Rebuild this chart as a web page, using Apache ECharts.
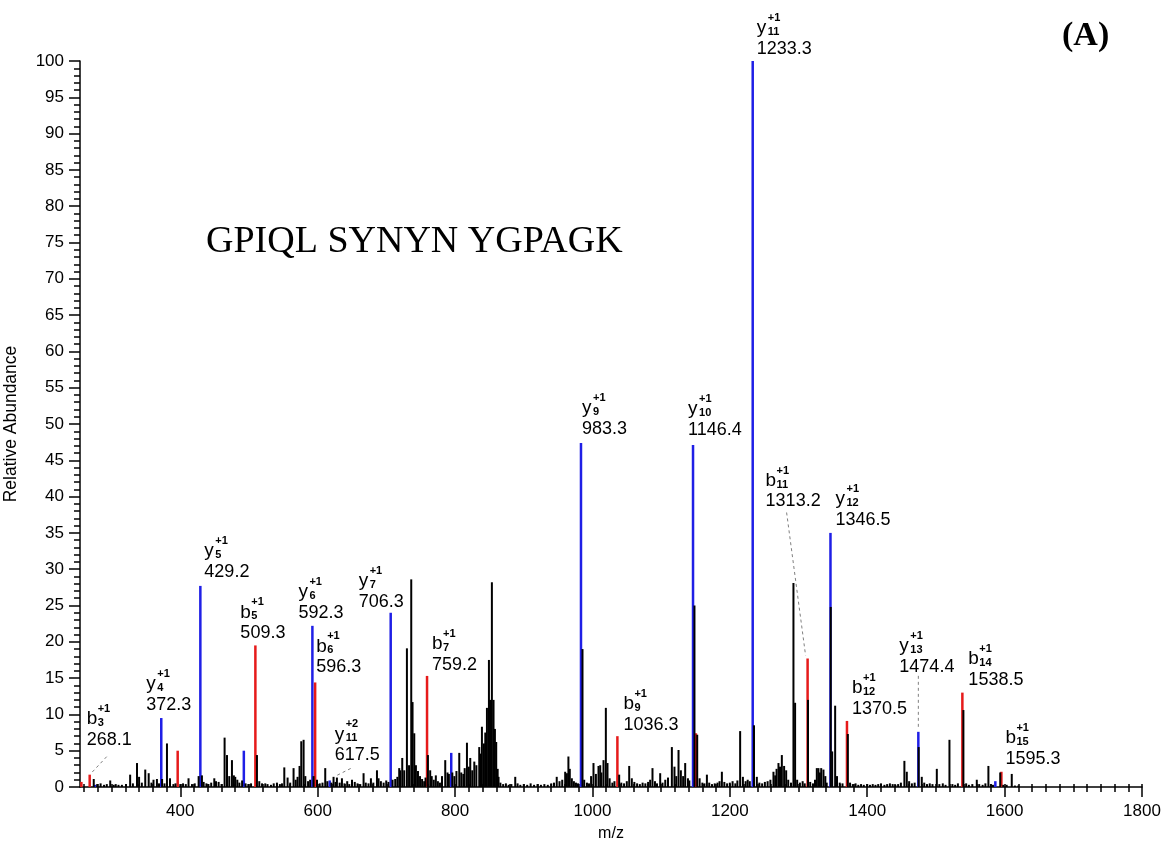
<!DOCTYPE html>
<html>
<head>
<meta charset="utf-8">
<script src="https://cdn.jsdelivr.net/npm/echarts@6/dist/echarts.min.js"></script>
<style>
html,body{margin:0;padding:0;background:#fff;}
#chart{width:1166px;height:843px;}
</style>
</head>
<body>
<div id="chart"></div>
<script>
// ---------------- DATA ----------------
const peptide = 'GPIQL SYNYN YGPAGK';
const panelTag = '(A)';
const xTickLabels = [400, 600, 800, 1000, 1200, 1400, 1600, 1800];
const yTickStep = 5;

// y-ion peaks (blue) [m/z, relative abundance]
const yIonPeaks = [
  [276, 0.3], [372.3, 9.5], [429.2, 27.7], [492.5, 5.0], [592.3, 22.2], [617.5, 0.9],
  [706.3, 24.0], [794.4, 4.7], [983.3, 47.4], [1146.4, 47.1], [1233.3, 100],
  [1346.5, 35.0], [1474.4, 7.6], [1586.5, 0.8]
];

// b-ion peaks (red)
const bIonPeaks = [
  [256, 0.7], [268.1, 1.7], [396.2, 5.0], [509.3, 19.5], [596.3, 14.4], [759.2, 15.3],
  [1036.3, 7.0], [1150.6, 7.4], [1313.2, 17.7], [1370.5, 9.1], [1538.5, 13.0], [1595.3, 2.1]
];

// unassigned peaks (black)
const otherPeaks = [
  [274,1.1],[279,0.4],[284,0.5],[289,0.3],[293,0.4],[298,0.9],[303,0.3],[306,0.4],[310,0.3],[315,0.3],
  [321,0.4],[327,1.7],[331,0.5],[337,3.3],[340,1.4],[344,0.6],[349,2.4],[354,1.9],[358,0.6],[361,1.0],
  [366,1.1],[369,0.5],[373.5,1.1],[377,0.5],[380.6,6.0],[385,1.2],[390,0.4],[393,0.5],[400,0.4],[404,0.5],
  [408,0.4],[412,1.2],[417,0.4],[421,0.5],[426.7,1.5],[431.5,1.6],[434,0.7],[438,0.5],[441,0.4],[445,0.6],
  [449.5,1.2],[452,0.8],[455.8,0.7],[460,0.4],[464.5,6.8],[468,4.4],[471.3,1.5],[475.2,3.7],[478,1.6],[480,1.4],
  [483,1.0],[486,0.6],[490,0.9],[495,0.5],[499,0.4],[503,0.5],[511.6,4.4],[515,0.8],[519,0.5],[523.7,0.5],
  [527,0.4],[532,0.3],[536,0.5],[540.7,0.6],[545,0.4],[548,0.5],[551.4,2.7],[556.2,1.3],[560,0.6],[564.9,2.6],
  [568,1.0],[570.7,1.4],[573.6,2.9],[576.1,6.3],[579.5,6.5],[582,1.5],[586,0.8],[589,1.0],[594,1.5],[599,1.0],
  [603,0.5],[607,0.6],[611,2.6],[614,0.8],[620,0.6],[623.1,1.4],[626,0.7],[628,1.3],[632,0.6],[635.3,1.2],
  [639,0.5],[643,0.8],[646,0.4],[650,1.0],[654,0.7],[658,0.5],[662,0.4],[666.8,1.9],[670,0.6],[674,0.5],
  [677.5,1.2],[681,0.6],[686.3,2.3],[688.6,1.2],[692,0.8],[696,0.6],[699.8,0.9],[703,0.7],[709,1.0],[712.9,1.1],
  [716,1.4],[718.7,2.6],[720.2,2.3],[723.1,4.0],[726,2.3],[729.9,19.1],[733,3.0],[736.2,28.6],[738.1,11.7],[740.6,7.4],
  [743,3.0],[746,2.2],[749,1.5],[752,1.1],[755,0.8],[757,1.3],[760.5,4.4],[763.8,2.3],[766,1.5],[769,1.0],
  [772,1.6],[775,0.8],[778,0.6],[781,1.5],[785.7,3.7],[789,2.0],[791,1.8],[796,2.0],[799,1.5],[802,2.2],
  [806.1,4.7],[809,2.0],[812,1.8],[814,2.6],[817.3,6.1],[820,2.8],[822.1,4.0],[825,2.3],[828,3.5],[831,3.0],
  [835.2,5.5],[837,4.6],[839.1,8.3],[842,6.0],[844,7.5],[846.4,10.9],[849.3,17.5],[851,12.0],[853.6,28.2],[856,12.0],
  [858,8.0],[859.9,6.2],[862,2.5],[863.3,1.4],[866,0.6],[870,0.4],[874,0.5],[878,0.3],[882,0.4],[887.6,1.4],
  [891,0.5],[895,0.3],[900,0.4],[905,0.3],[910,0.5],[915,0.3],[920,0.4],[925,0.3],[930,0.4],[935,0.3],
  [940,0.5],[944,0.6],[948,1.4],[952,0.8],[956,1.0],[960.3,2.1],[962.8,1.9],[965,4.2],[967,2.5],[970,1.2],
  [973,0.8],[976,0.6],[979,0.5],[985.5,19.0],[988,1.0],[992,0.6],[995,0.5],[998,1.5],[1001.5,3.3],[1005,1.8],
  [1008.8,2.9],[1011.3,3.0],[1013,2.0],[1016.1,3.7],[1019.5,10.9],[1021.9,3.3],[1025,1.2],[1029,0.6],[1032,0.8],[1038.9,1.7],
  [1042,0.6],[1046,0.5],[1050,0.8],[1053.5,2.9],[1057.3,1.2],[1061,0.7],[1065,0.5],[1069,0.4],[1073,0.6],[1077,0.5],
  [1081,0.7],[1084,1.0],[1087.4,2.6],[1091,0.8],[1094,0.5],[1098.6,1.9],[1102,0.6],[1106,1.0],[1110,1.3],[1115.6,5.5],
  [1119.4,2.8],[1122,1.5],[1125.3,5.1],[1128.7,2.3],[1132,1.5],[1135,3.3],[1139,1.2],[1141,0.9],[1148.5,25.0],[1152.5,7.2],
  [1156,1.2],[1160,0.6],[1163,0.5],[1166.6,1.7],[1170,0.6],[1174,0.4],[1178,0.5],[1182,0.6],[1185,0.8],[1188.4,2.1],
  [1192,0.7],[1196,0.5],[1200,0.6],[1204,0.8],[1208,0.5],[1211,0.9],[1215,7.7],[1219,1.4],[1223,0.8],[1226,1.0],
  [1229,0.8],[1235.2,8.5],[1239.3,1.4],[1243,0.6],[1247,0.5],[1251,0.7],[1255,0.8],[1259,1.0],[1263.5,2.1],[1266,1.6],
  [1268,2.5],[1270.8,3.3],[1273,2.8],[1275.7,4.4],[1279,2.9],[1282,2.3],[1285,1.0],[1289,0.6],[1292.6,28.1],[1295,11.6],
  [1298,1.0],[1302,0.6],[1306,0.8],[1309,0.5],[1313.8,12.0],[1317,0.7],[1321,0.5],[1324,1.0],[1326.6,2.6],[1329,2.6],
  [1331,2.0],[1333,2.6],[1336.3,2.4],[1339,1.5],[1341,0.6],[1346.9,24.8],[1349,4.9],[1353.3,11.2],[1356,1.5],[1360,0.6],
  [1364,0.5],[1371.8,7.3],[1375,0.6],[1379,0.4],[1383,0.5],[1387,0.3],[1391,0.4],[1395,0.3],[1400,0.4],[1404,0.3],
  [1408,0.4],[1412,0.3],[1416,0.4],[1420,0.5],[1425,0.3],[1429,0.4],[1433,0.5],[1437,0.4],[1441,0.3],[1445,0.4],
  [1449,0.6],[1454.1,3.6],[1457.6,2.1],[1461,0.8],[1465,0.5],[1469,0.6],[1474.9,5.5],[1479.4,1.4],[1483,0.6],[1487,0.4],
  [1491,0.5],[1495,0.4],[1501.3,2.5],[1505,0.4],[1510,0.5],[1514,0.3],[1519.7,6.5],[1524,0.4],[1528,0.3],[1532,0.5],
  [1540,10.6],[1544,0.5],[1548,0.3],[1553,0.4],[1559.5,1.0],[1563,0.4],[1568,0.3],[1572,0.5],[1576.4,2.9],[1580,0.4],
  [1583,0.3],[1593.6,2.0],[1598,0.3],[1603,0.3],[1610.4,1.8],[1615,0.2],[1620,0.2]
];

// annotations: ion type, index, charge, m/z text
const annotations = [
  ['b','3','+1','268.1'], ['y','4','+1','372.3'], ['y','5','+1','429.2'], ['b','5','+1','509.3'],
  ['y','6','+1','592.3'], ['b','6','+1','596.3'], ['y','11','+2','617.5'], ['y','7','+1','706.3'],
  ['b','7','+1','759.2'], ['y','9','+1','983.3'], ['b','9','+1','1036.3'], ['y','10','+1','1146.4'],
  ['y','11','+1','1233.3'], ['b','11','+1','1313.2'], ['y','12','+1','1346.5'], ['b','12','+1','1370.5'],
  ['y','13','+1','1474.4'], ['b','14','+1','1538.5'], ['b','15','+1','1595.3']
];

// ---------------- LAYOUT (label offsets in px relative to peak top) ----------------
const labelOffset = {
  '268.1':[-3,-35], '372.3':[-15,-13], '429.2':[4,-14], '509.3':[-15,-12], '592.3':[-14,-13],
  '596.3':[1,-15], '617.5':[5,-25], '706.3':[-32,-11], '759.2':[5,-11], '983.3':[1,-14],
  '1036.3':[6,-11], '1146.4':[-5,-15], '1233.3':[4,-12], '1313.2':[-42,-157], '1346.5':[5,-13],
  '1370.5':[5,-12], '1474.4':[-19,-65], '1538.5':[6,-13], '1595.3':[4,-13]
};
const leaderOffset = {
  '268.1':[17,-18,2,-2], '617.5':[21,-12,7,-5], '1313.2':[-21,-146,-2,-3], '1474.4':[0,-56,0,-2]
};

const BLUE = '#1f1fe6', RED = '#e61a1a', BLACK = '#000';
const FONT = '"Liberation Sans", Arial, sans-serif';

function findPeak(mzText){
  const mz = parseFloat(mzText);
  const all = yIonPeaks.concat(bIonPeaks);
  let best = all[0], d = 1e9;
  all.forEach(p => { const dd = Math.abs(p[0]-mz); if (dd < d) { d = dd; best = p; } });
  return best;
}
const annData = annotations.map(a => findPeak(a[3]));

function stickRenderer(color, width){
  return function(params, api){
    const x = api.value(0), v = api.value(1);
    const p0 = api.coord([x, 0]);
    const p1 = api.coord([x, v]);
    return {
      type: 'line',
      shape: {x1: p0[0], y1: p0[1], x2: p1[0], y2: p1[1]},
      style: {stroke: color, lineWidth: width}
    };
  };
}

function labelRenderer(params, api){
  const a = annotations[params.dataIndex];
  const top = api.coord([api.value(0), api.value(1)]);
  const off = labelOffset[a[3]] || [2,-13];
  const lx = top[0] + off[0], ly = top[1] + off[1];
  const children = [
    {type:'text', style:{x:lx, y:ly, text:a[3], font:'18px '+FONT, fill:'#000', textAlign:'left', textVerticalAlign:'middle'}},
    {type:'text', style:{x:lx, y:ly-21, text:a[0], font:'19px '+FONT, fill:'#000', textAlign:'left', textVerticalAlign:'middle'}},
    {type:'text', style:{x:lx+11, y:ly-31, text:a[2], font:'bold 11px '+FONT, fill:'#000', textAlign:'left', textVerticalAlign:'middle'}},
    {type:'text', style:{x:lx+11, y:ly-17, text:a[1], font:'bold 11px '+FONT, fill:'#000', textAlign:'left', textVerticalAlign:'middle'}}
  ];
  const ld = leaderOffset[a[3]];
  if (ld) {
    children.push({type:'line', shape:{x1:top[0]+ld[0], y1:top[1]+ld[1], x2:top[0]+ld[2], y2:top[1]+ld[3]},
      style:{stroke:'#808080', lineWidth:1, lineDash:[3,3]}});
  }
  return {type:'group', children: children};
}

const minorX = [];
for (let v = 260; v <= 1800; v += 20) minorX.push(v);

const chart = echarts.init(document.getElementById('chart'), null, {renderer:'canvas'});
const axisCommon = {
  type:'value', min:254, max:1800, position:'bottom', gridIndex:0
};
chart.setOption({
  animation:false,
  backgroundColor:'#fff',
  grid:{left:80, right:24, top:61, bottom:56, containLabel:false, outerBoundsMode:'none'},
  xAxis:[
    Object.assign({}, axisCommon, {
      name:'m/z', nameLocation:'middle', nameGap:39,
      nameTextStyle:{fontFamily:FONT, fontSize:16, color:'#000'},
      axisLine:{show:true, lineStyle:{color:'#000', width:1.5}},
      axisTick:{show:true, customValues:minorX, length:5, lineStyle:{color:'#000', width:1.5}},
      axisLabel:{show:true, customValues:xTickLabels, fontFamily:FONT, fontSize:17, color:'#000', margin:16,
        formatter: v => String(v)},
      splitLine:{show:false}
    }),
    Object.assign({}, axisCommon, {
      axisLine:{show:false},
      axisTick:{show:true, customValues:xTickLabels, length:10, lineStyle:{color:'#000', width:1.5}},
      axisLabel:{show:false}, splitLine:{show:false}
    }),
    Object.assign({}, axisCommon, {
      axisLine:{show:false},
      axisTick:{show:true, inside:true, customValues:minorX, length:3, lineStyle:{color:'#000', width:1.5}},
      axisLabel:{show:false}, splitLine:{show:false}
    })
  ],
  yAxis:{
    type:'value', min:0, max:100, interval:yTickStep,
    name:'Relative Abundance', nameLocation:'middle', nameGap:60,
    nameTextStyle:{fontFamily:FONT, fontSize:17.5, color:'#000'},
    axisLine:{show:true, lineStyle:{color:'#000', width:1.5}},
    axisTick:{show:true, length:11, lineStyle:{color:'#000', width:1.5}},
    minorTick:{show:true, splitNumber:5, length:6, lineStyle:{color:'#000', width:1.5}},
    axisLabel:{fontFamily:FONT, fontSize:17, color:'#000', margin:16},
    splitLine:{show:false}, minorSplitLine:{show:false}
  },
  graphic:[
    {type:'text', left:206, top:223, style:{text:peptide, font:'38px "Liberation Serif", "Times New Roman", serif', fill:'#000'}},
    {type:'text', left:1062, top:19, style:{text:panelTag, font:'bold 34px "Liberation Serif", "Times New Roman", serif', fill:'#000'}}
  ],
  series:[
    {type:'custom', name:'y ions', xAxisIndex:0, data:yIonPeaks, renderItem:stickRenderer(BLUE, 2.5), z:2, silent:true},
    {type:'custom', name:'b ions', xAxisIndex:0, data:bIonPeaks, renderItem:stickRenderer(RED, 2.5), z:2, silent:true},
    {type:'custom', name:'other', xAxisIndex:0, data:otherPeaks, renderItem:stickRenderer(BLACK, 2), z:3, silent:true},
    {type:'custom', name:'labels', xAxisIndex:0, data:annData, renderItem:labelRenderer, z:4, silent:true}
  ]
});
</script>
</body>
</html>
